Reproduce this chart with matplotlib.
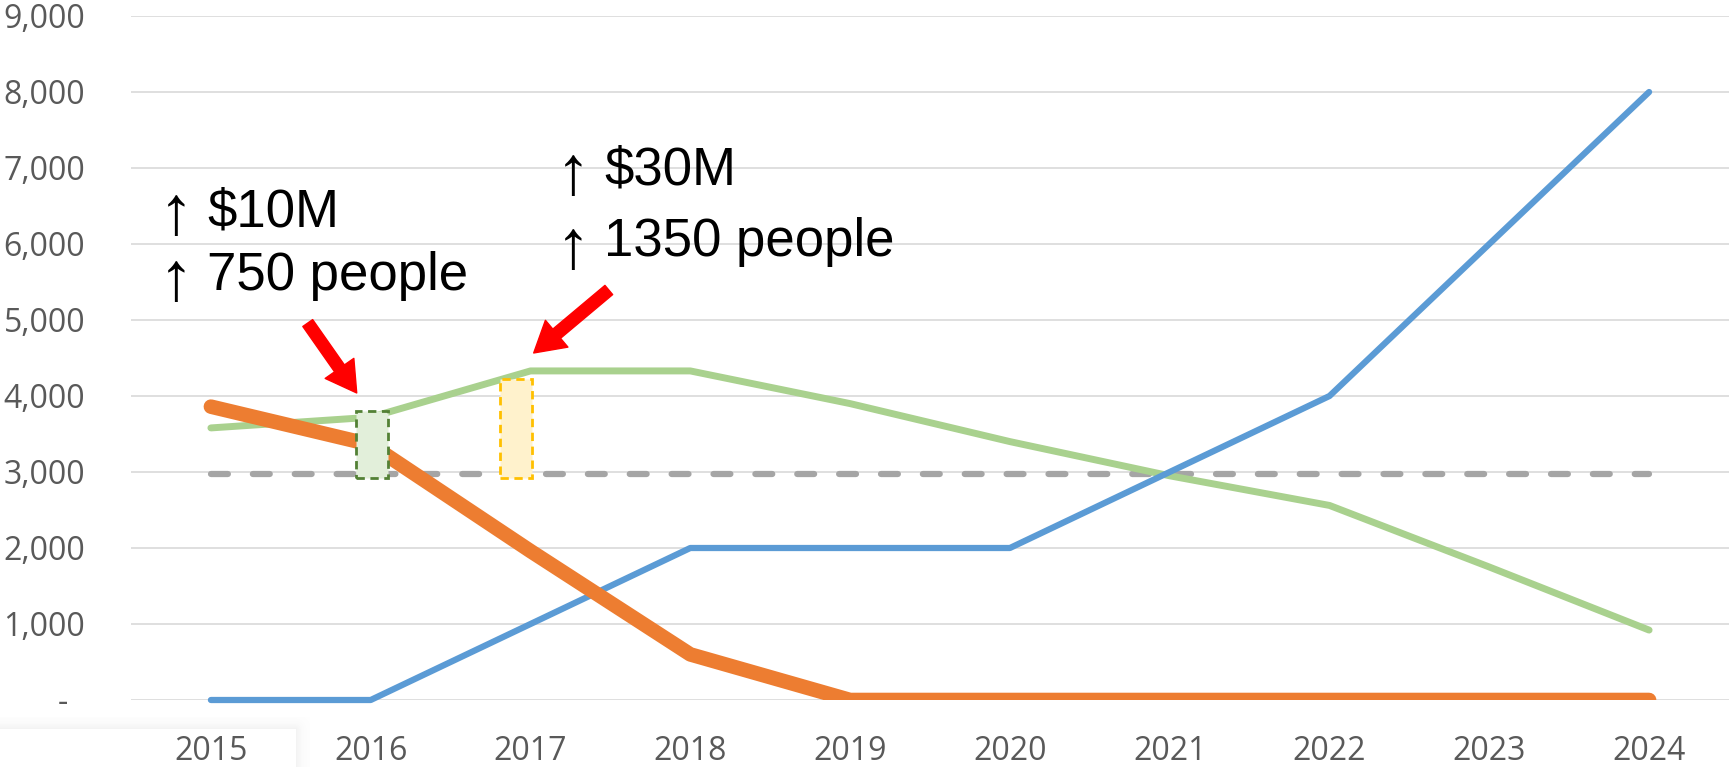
import numpy as np
import matplotlib
matplotlib.use("Agg")
import matplotlib.pyplot as plt
from matplotlib.ticker import FuncFormatter

# data
years = ["2015", "2016", "2017", "2018", "2019", "2020", "2021", "2022", "2023", "2024"]
blue_vals = [0, 0, 1000, 2000, 2000, 2000, 3000, 4000, 6000, 8000]
orange_vals = [3860, 3360, 1960, 600, 0, 0, 0, 0, 0, 0]
green_vals = [3580, 3720, 4330, 4330, 3900, 3400, 2950, 2560, 1750, 920]
threshold = [2970] * 10

# highlight boxes (x position in category units, bottom, top)
box_x = [1.01, 1.91]
box_bottom = [2920, 2920]
box_top = [3800, 4220]

# annotation lines
note_text = ["$10M", "750 people", "$30M", "1350 people"]
note_x = [-0.022, -0.022, 2.46, 2.46]
note_y = [6230, 5395, 6780, 5840]
# up-arrow columns: x, baseline of the lower arrow, line spacing
arrow_x = [-0.216, 2.266]
arrow_y = [5260, 5690]
arrow_ls = [1.05, 1.19]

plt.rcParams['font.family'] = ['Open Sans', 'DejaVu Sans']

fig = plt.figure(figsize=(17.29, 7.67), dpi=100)
ax = fig.add_axes([131 / 1729, 67 / 767, 1 - 131 / 1729, (700 - 16) / 767])

x = np.arange(len(years))

ax.plot(x, threshold, color="#A5A5A5", lw=4.5, linestyle=(0, (2.7, 4.0)),
        dash_capstyle="round", clip_on=False, zorder=3)
ax.plot(x, green_vals, color="#A9D18E", lw=5, solid_capstyle="round",
        solid_joinstyle="round", clip_on=False, zorder=4)
ax.plot(x, blue_vals, color="#5B9BD5", lw=4.5, solid_capstyle="round",
        solid_joinstyle="round", clip_on=False, zorder=5)
ax.plot(x, orange_vals, color="#ED7D31", lw=10.5, solid_capstyle="round",
        solid_joinstyle="round", zorder=6)

heights = [t - b for t, b in zip(box_top, box_bottom)]
ax.bar(box_x, heights, bottom=box_bottom, width=0.2,
       color=["#E2EFDA", "#FFF2CC"], edgecolor=["#538135", "#FFC000"],
       linewidth=2, linestyle=(0, (3, 2)), zorder=7)

# red arrows
astyle = "simple,head_length=0.9,head_width=1.05,tail_width=0.36"
ax.annotate("", xy=(0.9125, 4040), xytext=(0.606, 4960),
            arrowprops=dict(arrowstyle=astyle, color="red", mutation_scale=24,
                            shrinkA=0, shrinkB=0), zorder=8)
ax.annotate("", xy=(2.02, 4566), xytext=(2.49, 5395),
            arrowprops=dict(arrowstyle=astyle, color="red", mutation_scale=24,
                            shrinkA=0, shrinkB=0), zorder=8)

tfam = ['Liberation Sans', 'DejaVu Sans']
for tx, ty, s in zip(note_x, note_y, note_text):
    ax.text(tx, ty, s, fontsize=38, family=tfam, va="baseline", ha="left")
for axx, ayy, ls in zip(arrow_x, arrow_y, arrow_ls):
    ax.text(axx, ayy, "↑\n↑", fontsize=50, family=tfam, va="baseline",
            ha="center", multialignment="center", linespacing=ls)

ax.set_xlim(-0.5, 9.5)
ax.set_ylim(0, 9000)
ax.set_xticks(x)
ax.set_xticklabels(years)
ax.set_yticks(np.arange(0, 9001, 1000))
ax.yaxis.set_major_formatter(FuncFormatter(lambda v, p: "-  " if v == 0 else f"{int(v):,}"))
ax.tick_params(axis="both", length=0, labelsize=23, labelcolor="#595959")
ax.tick_params(axis="y", pad=33)
ax.tick_params(axis="x", pad=25)
ax.grid(axis="y", color="#D9D9D9", lw=1.2)
ax.set_axisbelow(True)
for s in ax.spines.values():
    s.set_visible(False)

# faint screenshot shadow in the bottom-left corner
sh = fig.add_axes([0, 0, 310 / 1729, 50 / 767], zorder=-1)
yy, xx = np.mgrid[0:50, 0:310]
dx = np.clip(xx - 295, 0, None)
dy = np.clip((50 - 38) - yy, 0, None)
d = np.hypot(dx, dy)
alpha = 0.10 * np.exp(-d / 6.0)
alpha[(xx <= 295) & (yy >= 12)] = 0
rgba = np.zeros((50, 310, 4))
rgba[..., :3] = 0.45
rgba[..., 3] = alpha
sh.imshow(rgba, aspect="auto", extent=(0, 310, 0, 50), origin="upper")
sh.axis("off")

fig.savefig("out.png", dpi=100, facecolor="white")
